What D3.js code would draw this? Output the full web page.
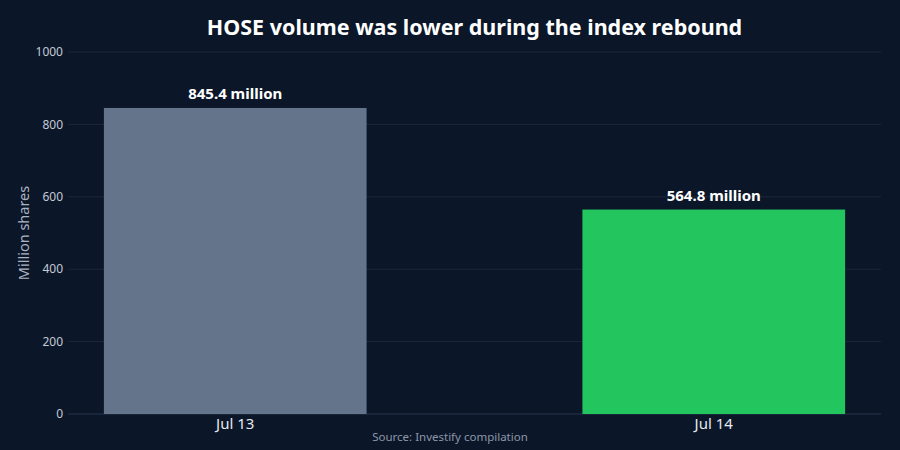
<!DOCTYPE html>
<html>
<head>
<meta charset="utf-8">
<script src="https://cdn.jsdelivr.net/npm/d3@7"></script>
<style>
  html, body { margin: 0; padding: 0; background: #0b1628; }
  svg { display: block; font-family: "Noto Sans", "Open Sans", sans-serif; }
</style>
</head>
<body>
<script>
// data
var days = ["Jul 13", "Jul 14"];
var volumes = [845.4, 564.8];
var yTicks = [0, 200, 400, 600, 800, 1000];
var barColors = ["#64748b", "#22c55e"];

var w = 900;
var h = 450;
var margin = { top: 52, right: 19, bottom: 36, left: 68 };

var svg = d3.select("body")
            .append("svg")
            .attr("width", w)
            .attr("height", h);

svg.append("rect")
  .attr("width", w)
  .attr("height", h)
  .attr("fill", "#0b1628");

var x = d3.scaleBand()
  .domain(days)
  .range([margin.left, w - margin.right])
  .paddingInner(0.451)
  .paddingOuter(0.075);

var y = d3.scaleLinear()
  .domain([0, 1000])
  .range([h - margin.bottom, margin.top]);

// grid
svg.selectAll("line.grid")
  .data(yTicks)
  .enter()
  .append("line")
  .attr("class", "grid")
  .attr("x1", margin.left)
  .attr("x2", w - margin.right)
  .attr("y1", d => y(d))
  .attr("y2", d => y(d))
  .attr("stroke", d => d === 0 ? "#25324a" : "#1c2839")
  .attr("stroke-width", 1);

// y tick labels
svg.selectAll("text.ytick")
  .data(yTicks)
  .enter()
  .append("text")
  .attr("class", "ytick")
  .attr("x", margin.left - 5)
  .attr("y", d => y(d))
  .attr("dy", "0.35em")
  .attr("text-anchor", "end")
  .attr("font-size", "12px")
  .attr("fill", "#c3cad6")
  .text(d => d);

// bars
svg.selectAll("rect.bar")
  .data(volumes)
  .enter()
  .append("rect")
  .attr("class", "bar")
  .attr("x", (d, i) => x(days[i]))
  .attr("y", d => y(d))
  .attr("width", x.bandwidth())
  .attr("height", d => y(0) - y(d))
  .attr("fill", (d, i) => barColors[i]);

// value labels
svg.selectAll("text.value")
  .data(volumes)
  .enter()
  .append("text")
  .attr("class", "value")
  .attr("x", (d, i) => x(days[i]) + x.bandwidth() / 2)
  .attr("y", d => y(d) - 9)
  .attr("text-anchor", "middle")
  .attr("font-size", "15px")
  .attr("font-weight", "bold")
  .attr("fill", "#ffffff")
  .text(d => d.toFixed(1) + " million");

// x labels
svg.selectAll("text.xtick")
  .data(days)
  .enter()
  .append("text")
  .attr("class", "xtick")
  .attr("x", d => x(d) + x.bandwidth() / 2)
  .attr("y", y(0) + 15)
  .attr("text-anchor", "middle")
  .attr("font-size", "15px")
  .attr("fill", "#e5e9f0")
  .text(d => d);

// title
svg.append("text")
  .attr("x", (margin.left + w - margin.right) / 2)
  .attr("y", 35)
  .attr("text-anchor", "middle")
  .attr("font-size", "21.5px")
  .attr("font-weight", "bold")
  .attr("fill", "#ffffff")
  .text("HOSE volume was lower during the index rebound");

// y axis title
svg.append("text")
  .attr("transform", "translate(29," + y(500) + ") rotate(-90)")
  .attr("text-anchor", "middle")
  .attr("font-size", "14.5px")
  .attr("fill", "#aab3c2")
  .text("Million shares");

// source
svg.append("text")
  .attr("x", w / 2)
  .attr("y", 441)
  .attr("text-anchor", "middle")
  .attr("font-size", "11.5px")
  .attr("fill", "#8e97a8")
  .text("Source: Investify compilation");
</script>
</body>
</html>
